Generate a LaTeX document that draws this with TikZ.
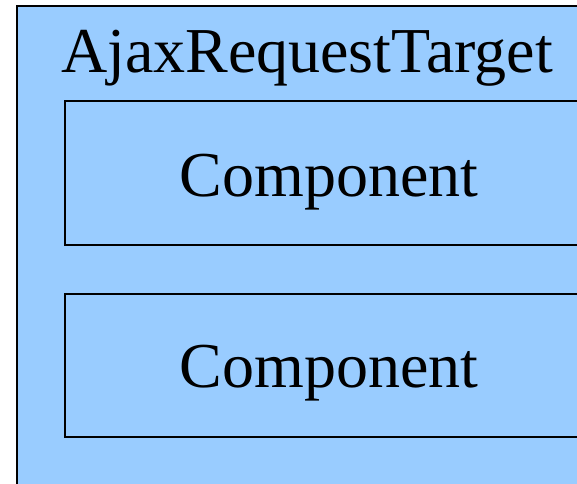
\documentclass[tikz,border=0pt]{standalone}
\usepackage{fontspec}
\setmainfont{Liberation Serif}
\definecolor{boxblue}{HTML}{99CCFF}
\begin{document}
\begin{tikzpicture}[x=1pt,y=-1pt,
  frame/.style={draw=black,line width=1.6pt,fill=boxblue},
  label/.style={font=\fontsize{64}{70}\selectfont,anchor=base,inner sep=0pt}]
  \useasboundingbox (0,0) rectangle (577,483);
  \clip (0,0) rectangle (577,483);
  % outer target container
  \draw[frame] (17,6) rectangle (597,500);
  \node[label] (title) at (307,72) {AjaxRequestTarget};
  % contained components
  \draw[frame] (65,101) rectangle (593,245);
  \node[label] (comp1) at (329,196) {Component};
  \draw[frame] (65,294) rectangle (593,437);
  \node[label] (comp2) at (329,387) {Component};
\end{tikzpicture}
\end{document}
